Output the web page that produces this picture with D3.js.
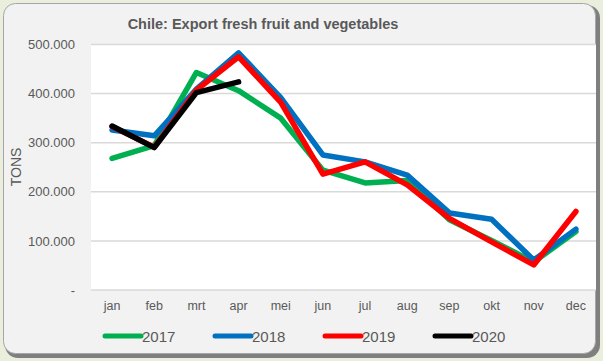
<!DOCTYPE html>
<html><head><meta charset="utf-8">
<script src="https://cdn.jsdelivr.net/npm/d3@7"></script>
<style>
html,body{margin:0;padding:0;background:#e9efdc;}
svg{display:block;font-family:"Liberation Sans",Arial,sans-serif;}
</style></head>
<body>
<svg id="c" width="603" height="361"></svg>
<script>
const months = ["jan","feb","mrt","apr","mei","jun","jul","aug","sep","okt","nov","dec"];
const years = ["2017","2018","2019","2020"];
const colors = ["#00b050","#0070c0","#ff0000","#000000"];
const v2017 = [268000,294000,443000,406000,350000,244000,218000,223000,143000,101000,57000,119000];
const v2018 = [326000,314000,409000,483000,392000,275000,261000,234000,157000,144000,61000,124000];
const v2019 = [333000,291000,407000,475000,382000,236000,261000,214000,146000,98000,51000,160000];
const v2020 = [334000,290000,402000,424000];
const yTicks = [0,100000,200000,300000,400000,500000];
const title = "Chile: Export fresh fruit and vegetables";
const yTitle = "TONS";

const series = [v2017,v2018,v2019,v2020];
const svg = d3.select("#c");

// panel with shadow
svg.append("rect").attr("x",5).attr("y",5).attr("width",595).attr("height",353).attr("rx",13)
  .attr("fill","#7f7f7f");
svg.append("rect").attr("x",3.5).attr("y",3.5).attr("width",592).attr("height",350).attr("rx",12)
  .attr("fill","#f2f2f2").attr("stroke","#a6a6a6").attr("stroke-width",1);

const L=91,R=596,T=44.5,B=290;
const x = d3.scaleBand().domain(months).range([L,R+1]);
const y = d3.scaleLinear().domain([0,500000]).range([B,T]);

svg.append("rect").attr("x",L).attr("y",T).attr("width",R-L).attr("height",B-T).attr("fill","#fff");

// gridlines
svg.append("g").selectAll("line").data(yTicks).join("line")
  .attr("x1",L).attr("x2",R).attr("y1",d=>y(d)).attr("y2",d=>y(d))
  .attr("stroke","#d9d9d9").attr("stroke-width",1.5);

const fmt = d => d===0 ? "-" : d3.format(",")(d).replace(/,/g,".");
// y axis
const ya = svg.append("g").attr("transform",`translate(${L},0)`)
  .call(d3.axisLeft(y).tickValues(yTicks).tickFormat(fmt).tickSize(0).tickPadding(16));
ya.select(".domain").remove();
ya.selectAll("text").attr("fill","#595959").style("font-size","13px").style("font-family","Liberation Sans, Arial, sans-serif");

// x axis
const xa = svg.append("g").attr("transform",`translate(0,${B})`)
  .call(d3.axisBottom(x).tickSize(0).tickPadding(11));
xa.select(".domain").remove();
xa.selectAll("text").attr("fill","#595959").style("font-size","12.5px").style("font-family","Liberation Sans, Arial, sans-serif");

// lines
const line = d3.line().x((d,i)=>x(months[i])+x.bandwidth()/2).y(d=>y(d));
svg.append("g").selectAll("path").data(series).join("path")
  .attr("d",d=>line(d)).attr("fill","none")
  .attr("stroke",(d,i)=>colors[i]).attr("stroke-width",5.5)
  .attr("stroke-linejoin","round").attr("stroke-linecap","round");

// title
svg.append("text").attr("x",263).attr("y",29).attr("text-anchor","middle")
  .attr("fill","#595959").style("font-size","14.5px").style("font-weight","bold").text(title);

// y title
svg.append("text").attr("transform","translate(21,167) rotate(-90)").attr("text-anchor","middle")
  .attr("fill","#595959").style("font-size","14px").text(yTitle);

// legend
const lg = svg.append("g").selectAll("g").data(years).join("g")
  .attr("transform",(d,i)=>`translate(${105+i*110},336)`);
lg.append("line").attr("x1",0).attr("x2",36).attr("y1",0).attr("y2",0)
  .attr("stroke",(d,i)=>colors[i]).attr("stroke-width",5).attr("stroke-linecap","round");
lg.append("text").attr("x",37).attr("y",5.5).attr("fill","#595959").style("font-size","15px").text(d=>d);
</script>
</body></html>
